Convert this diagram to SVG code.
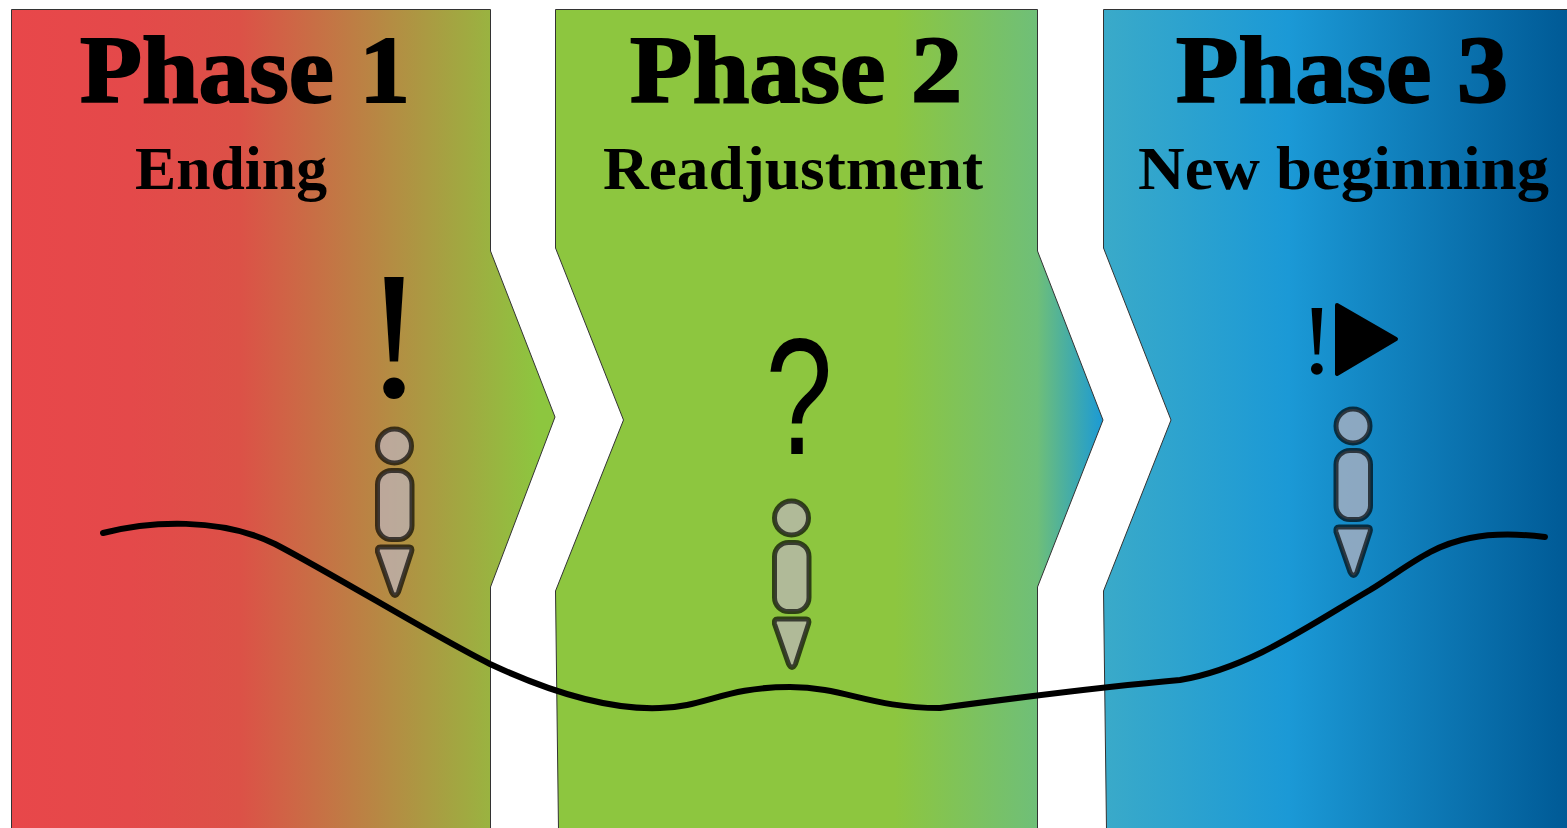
<svg xmlns="http://www.w3.org/2000/svg" width="1567" height="828" viewBox="0 0 1567 828">
<style>
.panel{stroke:#333;stroke-width:1}
.t{font-family:"Liberation Serif",serif;text-anchor:middle;fill:#000}
.h{font-size:96px;font-weight:700;stroke:#000;stroke-width:2}
.s{font-size:62px;font-weight:700}
.m{font-size:182px}
.q{font-family:"Liberation Sans",sans-serif;font-size:165px}
.p *{fill:#bfb5bf;fill-opacity:.7;stroke:#000;stroke-opacity:.68;stroke-width:5;stroke-linejoin:round}
</style>
<defs>
<linearGradient id="g1" gradientUnits="userSpaceOnUse" x1="11" y1="0" x2="555" y2="0"><stop offset="0" stop-color="#e8474a"/><stop offset=".22" stop-color="#e4494a"/><stop offset=".42" stop-color="#dc5147"/><stop offset=".97" stop-color="#8dc63f"/></linearGradient>
<linearGradient id="g2" gradientUnits="userSpaceOnUse" x1="555" y1="0" x2="1103" y2="0"><stop offset="0" stop-color="#8dc63f"/><stop offset=".62" stop-color="#8dc63f"/><stop offset=".88" stop-color="#6fbf78"/><stop offset="1" stop-color="#1b9ad6"/></linearGradient>
<linearGradient id="g3" gradientUnits="userSpaceOnUse" x1="1103" y1="0" x2="1567" y2="0"><stop offset="0" stop-color="#3aaac9"/><stop offset=".4" stop-color="#1b99d6"/><stop offset="1" stop-color="#005a96"/></linearGradient>
<g id="person" class="p">
<circle cx="0" cy="0" r="17"/>
<rect x="-17" y="24.500" width="34.500" height="69" rx="14"/>
<path d="M-14 101H14.500Q18.500 101 17 106L4 146Q0.500 153 -3 146L-17 106Q-18 101 -14 101Z"/>
</g>
</defs>
<g id="phase1">
<path class="panel" fill="url(#g1)" d="M11.500 9.500H490.500V251L555 417L490.500 587V830H11.500Z"/>
<text class="t h" x="245" y="102" textLength="330" lengthAdjust="spacingAndGlyphs">Phase 1</text>
<text class="t s" x="231" y="189" textLength="192" lengthAdjust="spacingAndGlyphs">Ending</text>
<text class="t m" x="394" y="396">!</text>
<use href="#person" x="394.500" y="446"/>
</g>
<g id="phase2">
<path class="panel" fill="url(#g2)" d="M555.500 9.500H1037.500V251L1103 420L1037.500 587V830H558.500L555.500 591L623.500 420L555.500 248Z"/>
<text class="t h" x="796" y="102" textLength="332" lengthAdjust="spacingAndGlyphs">Phase 2</text>
<text class="t s" x="793" y="189" textLength="380" lengthAdjust="spacingAndGlyphs">Readjustment</text>
<text class="t q" x="799" y="454" textLength="67" lengthAdjust="spacingAndGlyphs">?</text>
<use href="#person" x="791.500" y="518"/>
</g>
<g id="phase3">
<path class="panel" fill="url(#g3)" d="M1103.500 9.500H1568V830H1106.500L1103.500 591L1171 420L1103.500 248Z"/>
<text class="t h" x="1342" y="102" textLength="332" lengthAdjust="spacingAndGlyphs">Phase 3</text>
<text class="t s" x="1343.500" y="189" textLength="411" lengthAdjust="spacingAndGlyphs">New beginning</text>
<text class="t" style="font-size:100px" x="1317" y="373">!</text>
<path d="M1337 305L1396 339L1337 374Z" fill="#000" stroke="#000" stroke-width="4" stroke-linejoin="round"/>
<use href="#person" x="1353" y="426"/>
</g>
<g id="connectors">
<path d="M103 533C150 521 220 517 275 544C340 578 430 634 490 664C550 692 610 710 660 708C705 707 725 687 790 687C845 687 870 708 940 708C1000 700 1110 686 1180 680C1250 668 1310 625 1370 590C1410 565 1430 546 1470 538C1495 533 1520 534 1545 537" fill="none" stroke="#000" stroke-width="6" stroke-linecap="round"/>
</g>
</svg>
